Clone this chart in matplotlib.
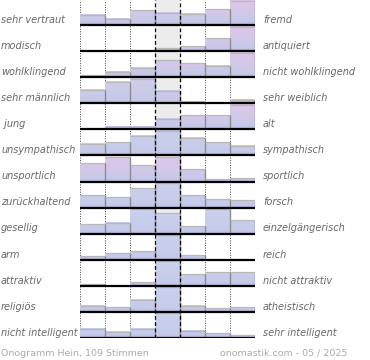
import numpy as np
import matplotlib
matplotlib.use("Agg")
import matplotlib.pyplot as plt
import matplotlib.transforms as mtransforms

# onogramm data: left / right adjective and 7 bar heights per row (share of row max)
left_labels = ["sehr vertraut", "modisch", "wohlklingend", "sehr männlich", " jung",
               "unsympathisch", "unsportlich", "zurückhaltend", "gesellig", "arm",
               "attraktiv", "religiös", "nicht intelligent"]
right_labels = ["fremd", "antiquiert", "nicht wohlklingend", "sehr weiblich", "alt",
                "sympathisch", "sportlich", "forsch", "einzelgängerisch", "reich",
                "nicht attraktiv", "atheistisch", "sehr intelligent"]
values = [
    [0.41, 0.26, 0.60, 0.50, 0.46, 0.64, 1.00],
    [0.00, 0.00, 0.00, 0.12, 0.20, 0.53, 1.00],
    [0.08, 0.22, 0.37, 0.69, 0.57, 0.45, 1.00],
    [0.56, 0.87, 1.00, 0.49, 0.05, 0.00, 0.15],
    [0.00, 0.09, 0.09, 0.43, 0.57, 0.57, 1.00],
    [0.45, 0.53, 0.81, 1.00, 0.73, 0.53, 0.37],
    [0.75, 1.00, 0.67, 1.00, 0.53, 0.12, 0.16],
    [0.52, 0.44, 0.80, 1.00, 0.52, 0.34, 0.30],
    [0.39, 0.45, 1.00, 0.84, 0.30, 1.00, 0.54],
    [0.15, 0.27, 0.35, 1.00, 0.18, 0.00, 0.00],
    [0.07, 0.00, 0.14, 1.00, 0.48, 0.57, 0.57],
    [0.25, 0.20, 0.50, 1.00, 0.25, 0.14, 0.20],
    [0.38, 0.25, 0.38, 1.00, 0.29, 0.20, 0.11],
]
# how pink the top of the bars gets in each row
tint = [1, 1, 1, 0.3, 1, 0, 1, 0, 0, 0, 0, 0, 0]
footer_left = "Onogramm Hein, 109 Stimmen"
footer_right = "onomastik.com - 05 / 2025"

W, H = 370, 360
fig = plt.figure(figsize=(W / 100, H / 100), dpi=100)
ax = fig.add_axes([80 / W, 1 - 338 / H, 175 / W, 338 / H])
ax.set_axis_off()

scale = 0.94  # full bar height in row units
dark = np.array([0.66, 0.62, 0.81])
blue_low = np.array([0.77, 0.79, 0.91])
blue_top = np.array([0.79, 0.82, 0.93])
pink_top = np.array([0.87, 0.78, 0.91])

# middle column background
ax.axvspan(3, 4, color="#ececec", zorder=0, lw=0)
# dotted column lines
for c in [0, 1, 2, 5, 6, 7]:
    ax.axvline(c, color="#444444", lw=0.7, ls=(0, (1, 1.5)), zorder=1)

for i, row in enumerate(values):
    base = i + 1
    top_col = blue_top + (pink_top - blue_top) * tint[i]
    for c, v in enumerate(row):
        if v <= 0:
            continue
        n = 60
        t = np.linspace(0, v, n)
        cols = blue_low[None, :] + (top_col - blue_low)[None, :] * t[:, None]
        # darker band close to the base line
        d = np.clip(1 - t / 0.12, 0, 1)[:, None]
        cols = cols * (1 - 0.6 * d) + dark[None, :] * 0.6 * d
        img = cols[:, None, :]
        ytop = base - v * scale
        ax.imshow(img, extent=[c, c + 1, base, ytop], origin="lower",
                  aspect="auto", interpolation="bilinear", zorder=2)
        ax.plot([c, c + 1], [ytop, ytop], color="#b8b8b8", lw=0.9, zorder=3,
                solid_capstyle="butt")
        ax.plot([c + 1, c + 1], [ytop, base], color="#8c8c8c", lw=1.0, zorder=3,
                solid_capstyle="butt")
    ax.plot([0, 7], [base, base], color="black", lw=1.6, zorder=5,
            solid_capstyle="butt")

# dashed lines round the middle column
for c in [3, 4]:
    ax.axvline(c, color="black", lw=0.9, ls=(0, (3, 2)), zorder=4)

ax.set_xlim(0, 7)
ax.set_ylim(13, 0.04)

tr = mtransforms.blended_transform_factory(fig.transFigure, ax.transData)
for i in range(len(left_labels)):
    y = i + 1 - 0.2
    ax.text(1 / W, y, left_labels[i], transform=tr, ha="left", va="center",
            fontsize=7.0, style="italic", color="#686868", clip_on=False)
    ax.text(263 / W, y, right_labels[i], transform=tr, ha="left", va="center",
            fontsize=7.0, style="italic", color="#686868", clip_on=False)

fig.text(1 / W, 1 - 353 / H, footer_left, ha="left", va="center",
         fontsize=6.8, color="#aaaaaa")
fig.text(347 / W, 1 - 353 / H, footer_right, ha="right", va="center",
         fontsize=6.8, color="#aaaaaa")

fig.savefig("out.png", dpi=100)
